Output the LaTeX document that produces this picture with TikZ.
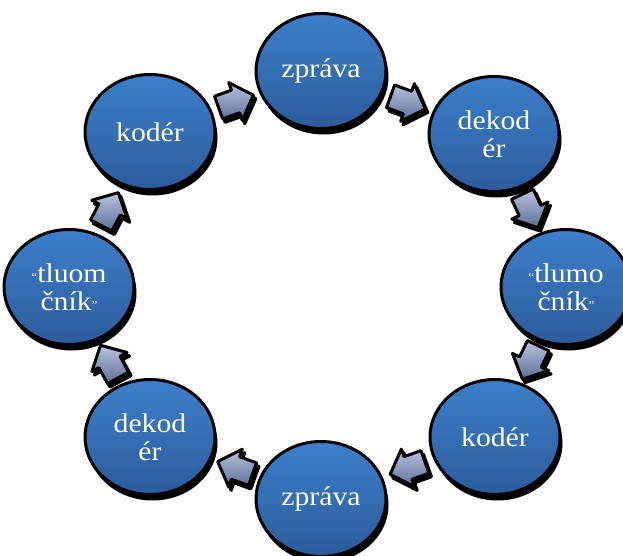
\documentclass[tikz,border=0pt]{standalone}
\usepackage{fontspec}
\setmainfont{Liberation Serif}[FakeStretch=1.1]
\usetikzlibrary{calc,shapes.geometric,shadows}
\definecolor{blueTop}{HTML}{3C7FCB}
\definecolor{blueBot}{HTML}{2C5C9A}
\definecolor{arrTop}{HTML}{B8C5E0}
\definecolor{arrBot}{HTML}{5E6E98}
\newcommand\smq[1]{\raisebox{1pt}{\fontsize{12}{12}\selectfont #1}}
\tikzset{
  cyc/.style={ellipse, minimum width=130pt, minimum height=115pt, inner sep=0pt,
    draw=black, line width=3pt, top color=blueTop, bottom color=blueBot,
    text=white, align=center, font=\fontsize{27}{28}\selectfont,
    drop shadow={fill=black, opacity=1, shadow xshift=2.5pt, shadow yshift=-6pt}},
  arrowpath/.style={line width=3pt, line join=round},
  blockarrow/.pic={
    \filldraw[arrowpath, black, rotate=-#1, shift={(2.5pt,-3.5pt)}, rotate=#1]
      (-18pt,-12pt) -- (0pt,-12pt) -- (0pt,-20pt) -- (19pt,0pt) -- (0pt,20pt) -- (0pt,12pt) -- (-18pt,12pt) -- cycle;
    \filldraw[arrowpath, draw=black, top color=arrTop, bottom color=arrBot]
      (-18pt,-12pt) -- (0pt,-12pt) -- (0pt,-20pt) -- (19pt,0pt) -- (0pt,20pt) -- (0pt,12pt) -- (-18pt,12pt) -- cycle;
  }
}
\newcommand\cyclearrow[2]{%
  \path let \p1=($(#2.center)-(#1.center)$), \n1={atan2(\y1,\x1)} in
    ($(#1.center)!0.5!(#2.center)$) pic[rotate=\n1]{blockarrow=\n1};}
\begin{document}
\begin{tikzpicture}[x=1pt,y=1pt]
\useasboundingbox (0,0) rectangle (623,555);
\node[cyc] (z1) at (321,484) {zpráva};
\node[cyc] (d1) at (494,421) {dekod\\ér};
\node[cyc] (t1) at (566,268) {\smq{“}tlumo\\čník\smq{”}};
\node[cyc] (k1) at (495,118) {kodér};
\node[cyc] (z2) at (321,56) {zpráva};
\node[cyc] (d2) at (150,118) {dekod\\ér};
\node[cyc] (t2) at (69,268) {\smq{“}tluom\\čník\smq{”}};
\node[cyc] (k2) at (150,423) {kodér};
\cyclearrow{k2}{z1}
\cyclearrow{z1}{d1}
\cyclearrow{d1}{t1}
\cyclearrow{t1}{k1}
\cyclearrow{k1}{z2}
\cyclearrow{z2}{d2}
\cyclearrow{d2}{t2}
\cyclearrow{t2}{k2}
\end{tikzpicture}
\end{document}
